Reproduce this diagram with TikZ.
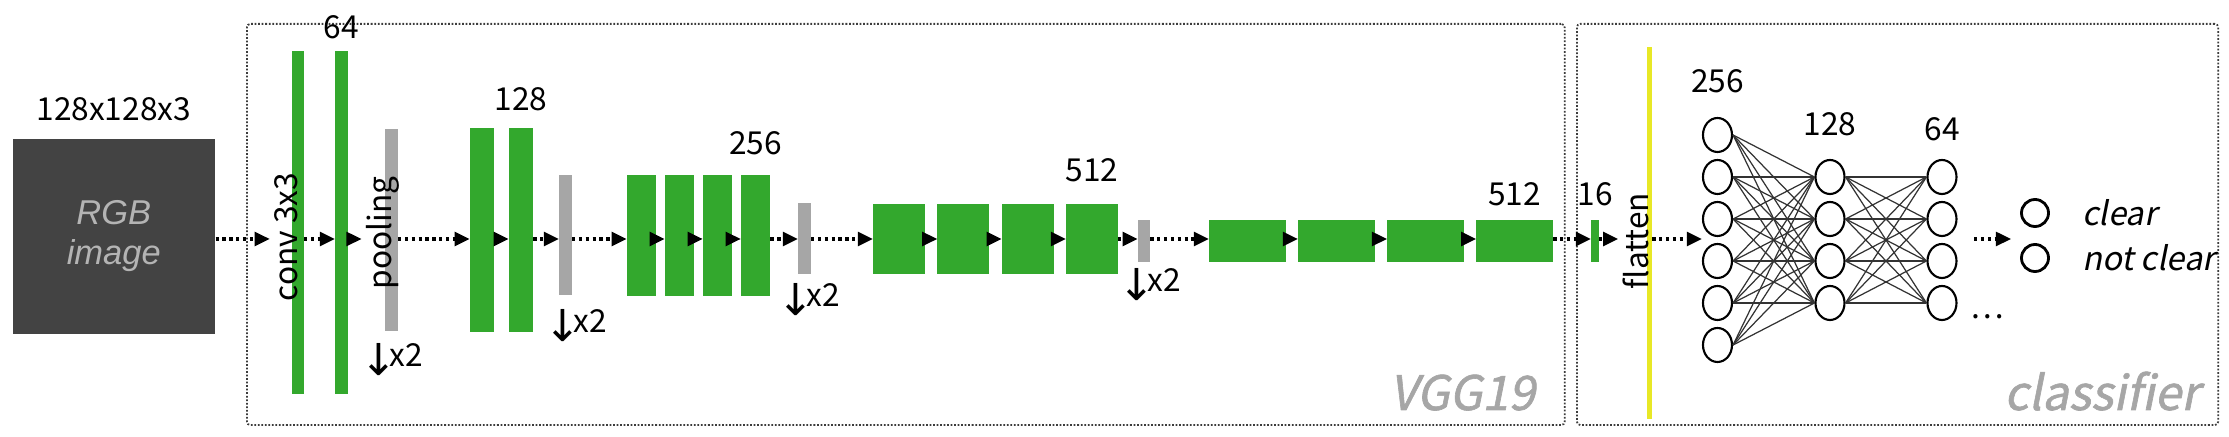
\documentclass[tikz,border=0pt]{standalone}
\usepackage{fontspec}
\setmainfont{Noto Sans CJK KR}[AutoFakeSlant=0.2]
\newfontfamily\rgbfont{Liberation Sans}
\newfontfamily\arrowfont{DejaVu Sans}
\newfontfamily\stagefont{Noto Sans CJK KR}[FakeSlant=0.2, FakeBold=1.3]
\newcommand{\halvesign}{\raisebox{-2.6pt}{\arrowfont\fontsize{12.5pt}{12.5pt}\selectfont ↓}\kern-2.2pt x2}
\usepackage{tikz}
\usetikzlibrary{arrows.meta, positioning, shapes.geometric}
\definecolor{vgggreen}{RGB}{51,168,45}
\definecolor{poolgray}{RGB}{166,166,166}
\definecolor{imgdark}{RGB}{67,67,67}
\definecolor{imgtext}{RGB}{180,180,180}
\definecolor{flatyellow}{RGB}{232,232,38}
\definecolor{framegray}{RGB}{60,60,60}
\definecolor{stagegray}{RGB}{166,166,166}

\begin{document}
\begin{tikzpicture}[
        x=0.01cm, y=-0.01cm,
        font=\fontsize{9pt}{10.5pt}\selectfont,
        conv/.style={rectangle, fill=vgggreen, inner sep=0pt, outer sep=0pt},
        pool/.style={rectangle, fill=poolgray, inner sep=0pt, outer sep=0pt, minimum width=0.13cm},
        num/.style={inner sep=1pt},
        vlabel/.style={rotate=90, anchor=base, inner sep=1pt},
        halving/.style={inner sep=1pt},
        flow/.style={draw, line width=0.95pt, dash pattern=on 0.95pt off 1pt, -{Triangle[length=4.3pt, width=3.9pt]}},
        stage/.style={draw=framegray, line width=0.5pt, dash pattern=on 0.5pt off 0.5pt, rounded corners=1pt, inner sep=0pt, anchor=north west},
        stagename/.style={text=stagegray, font=\stagefont\fontsize{13.5pt}{15pt}\selectfont, anchor=base east, inner sep=0pt},
        neuron/.style={ellipse, draw, line width=0.6pt, fill=white, minimum width=0.29cm, minimum height=0.34cm, inner sep=0pt},
        outunit/.style={circle, draw, line width=0.8pt, minimum size=0.27cm, inner sep=0pt},
        classname/.style={inner sep=1pt, anchor=west, font=\fontsize{9.3pt}{10.5pt}\selectfont\itshape},
        link/.style={draw=black!80, line width=0.35pt}
    ]
        \useasboundingbox (0,0) rectangle (2229,437);
        \coordinate (ax) at (0,239);

        % frames
        \node [stage, minimum width=13.17cm, minimum height=4.01cm] (vgg) at (246,23) {};
        \node [stage, minimum width=6.41cm, minimum height=4.01cm] (cls) at (1576,23) {};
        \node [stagename, xshift=-0.30cm, yshift=0.16cm] at (vgg.south east) {VGG19};
        \node [stagename, xshift=-0.19cm, yshift=0.16cm] at (cls.south east) {classifier};

        % input
        \node [rectangle, fill=imgdark, minimum width=2.02cm, minimum height=1.95cm, anchor=north west, align=center, text=imgtext, font=\rgbfont\itshape\fontsize{9.8pt}{11.4pt}\selectfont] (rgb) at (12,138) {RGB\\image};
        \node [num, above=0.13cm of rgb] {128x128x3};

        % VGG19 blocks
        \node [conv, minimum width=0.12cm, minimum height=3.43cm] (c1a) at (298,222.5) {};
        \node [conv, minimum width=0.125cm, minimum height=3.43cm, right=0.31cm of c1a] (c1b) {};
        \node [pool, minimum height=2.02cm] (p1) at (391.5,230) {};

        \node [conv, minimum width=0.245cm, minimum height=2.04cm] (c2a) at (482,230) {};
        \node [conv, minimum width=0.245cm, minimum height=2.04cm, right=0.145cm of c2a] (c2b) {};
        \node [pool, minimum height=1.20cm] (p2) at (565.5,235) {};

        \node [conv, minimum width=0.295cm, minimum height=1.21cm] (c3a) at (641.5,235.5) {};
        \node [conv, minimum width=0.295cm, minimum height=1.21cm, right=0.085cm of c3a] (c3b) {};
        \node [conv, minimum width=0.295cm, minimum height=1.21cm, right=0.085cm of c3b] (c3c) {};
        \node [conv, minimum width=0.295cm, minimum height=1.21cm, right=0.085cm of c3c] (c3d) {};
        \node [pool, minimum height=0.71cm] (p3) at (804.5,238.5) {};

        \node [conv, minimum width=0.52cm, minimum height=0.70cm] (c4a) at (899,239) {};
        \node [conv, minimum width=0.52cm, minimum height=0.70cm, right=0.123cm of c4a] (c4b) {};
        \node [conv, minimum width=0.52cm, minimum height=0.70cm, right=0.123cm of c4b] (c4c) {};
        \node [conv, minimum width=0.52cm, minimum height=0.70cm, right=0.123cm of c4c] (c4d) {};
        \node [pool, minimum width=0.125cm, minimum height=0.42cm] (p4) at (1144,241) {};

        \node [conv, minimum width=0.77cm, minimum height=0.42cm] (c5a) at (1247.5,241) {};
        \node [conv, minimum width=0.77cm, minimum height=0.42cm, right=0.12cm of c5a] (c5b) {};
        \node [conv, minimum width=0.77cm, minimum height=0.42cm, right=0.12cm of c5b] (c5c) {};
        \node [conv, minimum width=0.77cm, minimum height=0.42cm, right=0.12cm of c5c] (c5d) {};

        \node [conv, minimum width=0.08cm, minimum height=0.42cm] (b16) at (1595,241) {};
        \node [rectangle, fill=flatyellow, inner sep=0pt, minimum width=0.05cm, minimum height=3.72cm] (flat) at (1649,233) {};

        % layer labels
        \node [vlabel] (convlbl) at (297,237) {conv 3x3};
        \node [vlabel] (poollbl) at (391,233) {pooling};
        \node [vlabel] (flatlbl) at (1648,241) {flatten};
        \node [num, above=0.075cm of c1b] {64};
        \node [num, above=0.125cm of c2b] {128};
        \node [num, above=0.155cm of c3d] {256};
        \node [num, above=0.175cm of c4d] {512};
        \node [num, above=0.095cm of c5d] {512};
        \node [num, above=0.095cm of b16] {16};
        \node [halving, below=0.08cm of p1] {\halvesign};
        \node [halving, below=0.10cm of p2, xshift=0.1cm] {\halvesign};
        \node [halving, below=0.05cm of p3, xshift=0.04cm] {\halvesign};
        \node [halving, below=0.02cm of p4, xshift=0.06cm] {\halvesign};

        % classifier
        \foreach \i/\yy in {1/135, 2/177, 3/219, 4/261, 5/303, 6/345}
            \node [neuron] (h\i) at (1717.5,\yy) {};
        \foreach \i/\yy in {1/177, 2/219, 3/261, 4/303} {
            \node [neuron] (m\i) at (1830,\yy) {};
            \node [neuron] (s\i) at (1942,\yy) {};
        }
        \foreach \i in {1,...,6}
            \foreach \j in {1,...,4}
                \path [link] (h\i.east) -- (m\j.west);
        \foreach \i in {1,...,4}
            \foreach \j in {1,...,4}
                \path [link] (m\i.east) -- (s\j.west);
        \node [num, above=0.195cm of h1] {256};
        \node [num, above=0.185cm of m1] {128};
        \node [num, above=0.135cm of s1] {64};
        \node [num] (more) at (1987,317) {\dots};

        \node [outunit] (o1) at (2035,213) {};
        \node [outunit] (o2) at (2035,258) {};
        \node [classname, right=0.28cm of o1] {clear};
        \node [classname, right=0.28cm of o2] {not clear};

        % data flow
        \path [flow] (rgb.east |- ax) -- (convlbl.north |- ax);
        \path [flow] (c1a.east |- ax) -- (c1b.west |- ax);
        \path [flow] (c1b.east |- ax) -- (poollbl.north |- ax);
        \path [flow] (p1.east |- ax) -- (c2a.west |- ax);
        \path [flow] (c2a.east |- ax) -- (c2b.west |- ax);
        \path [flow] (c2b.east |- ax) -- (p2.west |- ax);
        \path [flow] (p2.east |- ax) -- (c3a.west |- ax);
        \path [flow] (c3a.east |- ax) -- (c3b.west |- ax);
        \path [flow] (c3b.east |- ax) -- (c3c.west |- ax);
        \path [flow] (c3c.east |- ax) -- (c3d.west |- ax);
        \path [flow] (c3d.east |- ax) -- (p3.west |- ax);
        \path [flow] (p3.east |- ax) -- (c4a.west |- ax);
        \path [flow] (c4a.east |- ax) -- (c4b.west |- ax);
        \path [flow] (c4b.east |- ax) -- (c4c.west |- ax);
        \path [flow] (c4c.east |- ax) -- (c4d.west |- ax);
        \path [flow] (c4d.east |- ax) -- (p4.west |- ax);
        \path [flow] (p4.east |- ax) -- (c5a.west |- ax);
        \path [flow] (c5a.east |- ax) -- (c5b.west |- ax);
        \path [flow] (c5b.east |- ax) -- (c5c.west |- ax);
        \path [flow] (c5c.east |- ax) -- (c5d.west |- ax);
        \path [flow] (c5d.east |- ax) -- (b16.west |- ax);
        \path [flow] (b16.east |- ax) -- (flatlbl.north |- ax);
        \path [flow] (flat.east |- ax) -- (h3.west |- ax);
        \path [flow, shorten <=0.165cm, shorten >=0.09cm] (s2.east |- ax) -- (o1.west |- ax);
\end{tikzpicture}
\end{document}
